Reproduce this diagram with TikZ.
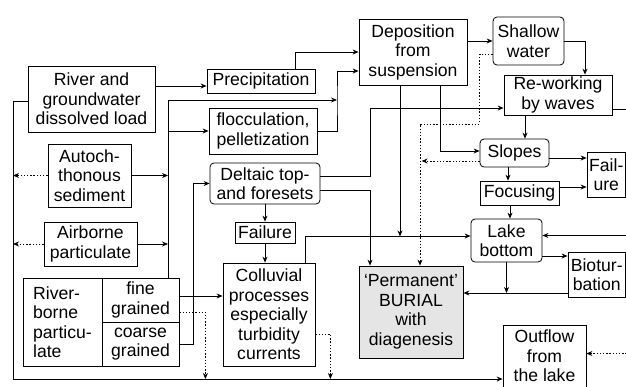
\documentclass[tikz,border=0pt]{standalone}
\usepackage{fontspec}
\setmainfont{Liberation Sans}
\usetikzlibrary{arrows.meta}

\begin{document}
\begin{tikzpicture}[x=1pt,y=-1pt,line width=0.8pt,
    >={Stealth[length=6pt,width=5pt]},
    box/.style={draw,align=center,inner sep=0pt,font=\fontsize{17.6}{19.5}\selectfont},
    rbox/.style={box,rounded corners=4pt},
    dots/.style={dash pattern=on 1.4pt off 1.8pt}]
    \path[use as bounding box,clip] (0,0) rectangle (626,386);

    \node[box,minimum width=127,minimum height=66] (river) at (91.5,99) {River and\\groundwater\\dissolved load};
    \node[box,minimum width=83,minimum height=63] (autoch) at (89.5,175.5) {Autoch-\\thonous\\sediment};
    \node[box,minimum width=93,minimum height=44] (air) at (90.5,244) {Airborne\\particulate};
    \node[box,align=left,minimum width=79,minimum height=88] (rbl) at (62.5,322) {River-\\borne\\particu-\\late};
    \node[box,minimum width=77,minimum height=44] (fine) at (140.5,300) {fine\\grained};
    \node[box,minimum width=77,minimum height=44] (coarse) at (140.5,344) {coarse\\grained};

    \node[box,minimum width=108,minimum height=24] (precip) at (261,81) {Precipitation};
    \node[box,minimum width=108,minimum height=46] (floc) at (263,131) {flocculation,\\pelletization};
    \node[rbox,minimum width=110,minimum height=41] (delta) at (265,183.5) {Deltaic top-\\and foresets};
    \node[box,minimum width=60,minimum height=21] (fail) at (265,232.5) {Failure};
    \node[box,minimum width=92,minimum height=103] (colluv) at (269,314.5) {Colluvial\\processes\\especially\\turbidity\\currents};

    \node[box,minimum width=108,minimum height=66] (depos) at (413,52) {Deposition\\from\\suspension};
    \node[rbox,minimum width=71,minimum height=48] (shallow) at (528.5,41) {Shallow\\water};
    \node[box,minimum width=108,minimum height=40] (rework) at (558,95) {Re-working\\by waves};
    \node[rbox,minimum width=69,minimum height=28] (slopes) at (514.5,153) {Slopes};
    \node[box,minimum width=79,minimum height=24] (focus) at (519.5,193) {Focusing};
    \node[box,minimum width=38.5,minimum height=45] (failure) at (606.25,174.5) {Fail-\\ure};
    \node[rbox,minimum width=71,minimum height=43] (lake) at (506.5,240.5) {Lake\\bottom};
    \node[box,minimum width=57.5,minimum height=45] (biotur) at (596.75,274.5) {Biotur-\\bation};
    \node[box,fill=black!10,minimum width=104,minimum height=92] (burial) at (411,312) {`Permanent'\\BURIAL\\with\\diagenesis};
    \node[box,minimum width=83,minimum height=62] (outflow) at (544.5,356) {Outflow\\from\\the lake};

    \coordinate (trunk) at (168,100);
    \coordinate (hub) at (337,100);
    \coordinate (rim) at (13,379);

    \draw[->] ([yshift=13pt]river.east) coordinate (a1) -- (a1 -| precip.west);
    \draw[->] ([xshift=34pt]precip.north) |- (depos.west);
    \draw[->] ([yshift=-2pt]river.west) -| (rim) -- (rim -| outflow.west);
    \draw[->] (fine.north -| trunk) -- (trunk) -- (hub);
    \draw[->] (trunk |- floc.west) -- (floc.west);
    \draw[->] (autoch.east) -- (autoch.east -| trunk);
    \draw[->] (air.east) -- (air.east -| trunk);
    \draw[->,dots] (autoch.west) -- (autoch.west -| rim);
    \draw[->,dots] (air.west) -- (air.west -| rim);
    \draw[->] (floc.east) -| (hub) |- ([yshift=-19pt]depos.west);
    \draw[->] ([yshift=4pt]fine.east) coordinate (a2) -- (a2 -| colluv.west);
    \draw[->,dots] ([yshift=-12pt]fine.east) -- ++(26,0) coordinate (a3) -- (a3 |- rim);
    \draw[->] (coarse.east) -- ++(14,0) |- (delta.west);
    \draw[->] (delta) -- (fail);
    \draw[->] (fail.south) -- (fail.south |- colluv.north);
    \draw[->] ([yshift=7pt]delta.east) -- ++(50,0) |- ([yshift=-13pt]rework.west);
    \draw[->] ([yshift=-7pt]delta.east) -| ([xshift=-41pt]burial.north);
    \draw[->] ([xshift=36pt]colluv.north) |- ([yshift=4.5pt]lake.west);
    \draw[->,dots] ([yshift=-19.5pt]colluv.east) -- ++(15,0) coordinate (a11) -- (a11 |- rim);

    \draw[->] ([xshift=-13pt]depos.south) -- ++(0,151);
    \draw[->] ([xshift=27pt]depos.south) |- ([yshift=2pt]slopes.west);
    \draw[->] (depos.east |- shallow.west) -- (shallow.west);
    \draw[->] (shallow.east) -| ([xshift=27pt]rework.north);
    \draw[->,dots] ([yshift=-13pt]shallow.west) -- ++(-13,0) -- ++(0,70) -| ([xshift=9pt]burial.north);
    \draw[->,dots] ([yshift=-8pt]slopes.west) -- ++(-58,0);
    \draw[->] ([xshift=-33pt]rework.south) coordinate (a4) -- (a4 |- slopes.north);
    \draw[->] ([yshift=-14pt]rework.east) -- ++(30,0) |- ([yshift=5pt]lake.east);
    \draw[->] ([xshift=-6.5pt]slopes.south) coordinate (a5) -- (a5 |- focus.north);
    \draw[->] ([yshift=-5pt]slopes.east) coordinate (a6) -- (a6 -| failure.west);
    \draw[->] ([yshift=6pt]focus.east) coordinate (a7) -- (a7 -| failure.west);
    \draw[->] ([xshift=-9.5pt]focus.south) coordinate (a8) -- (a8 |- lake.north);
    \draw[->] ([yshift=-15.5pt]lake.east) coordinate (a9) -- (a9 -| biotur.west);
    \draw[->] ([yshift=-18.5pt]biotur.west) coordinate (a10) -- (a10 -| burial.east);
    \draw[->] (lake.south) -- (lake.south |- a10);
    \draw[<-,dots] ([yshift=2.5pt]outflow.east) -- ++(50,0);
\end{tikzpicture}
\end{document}
